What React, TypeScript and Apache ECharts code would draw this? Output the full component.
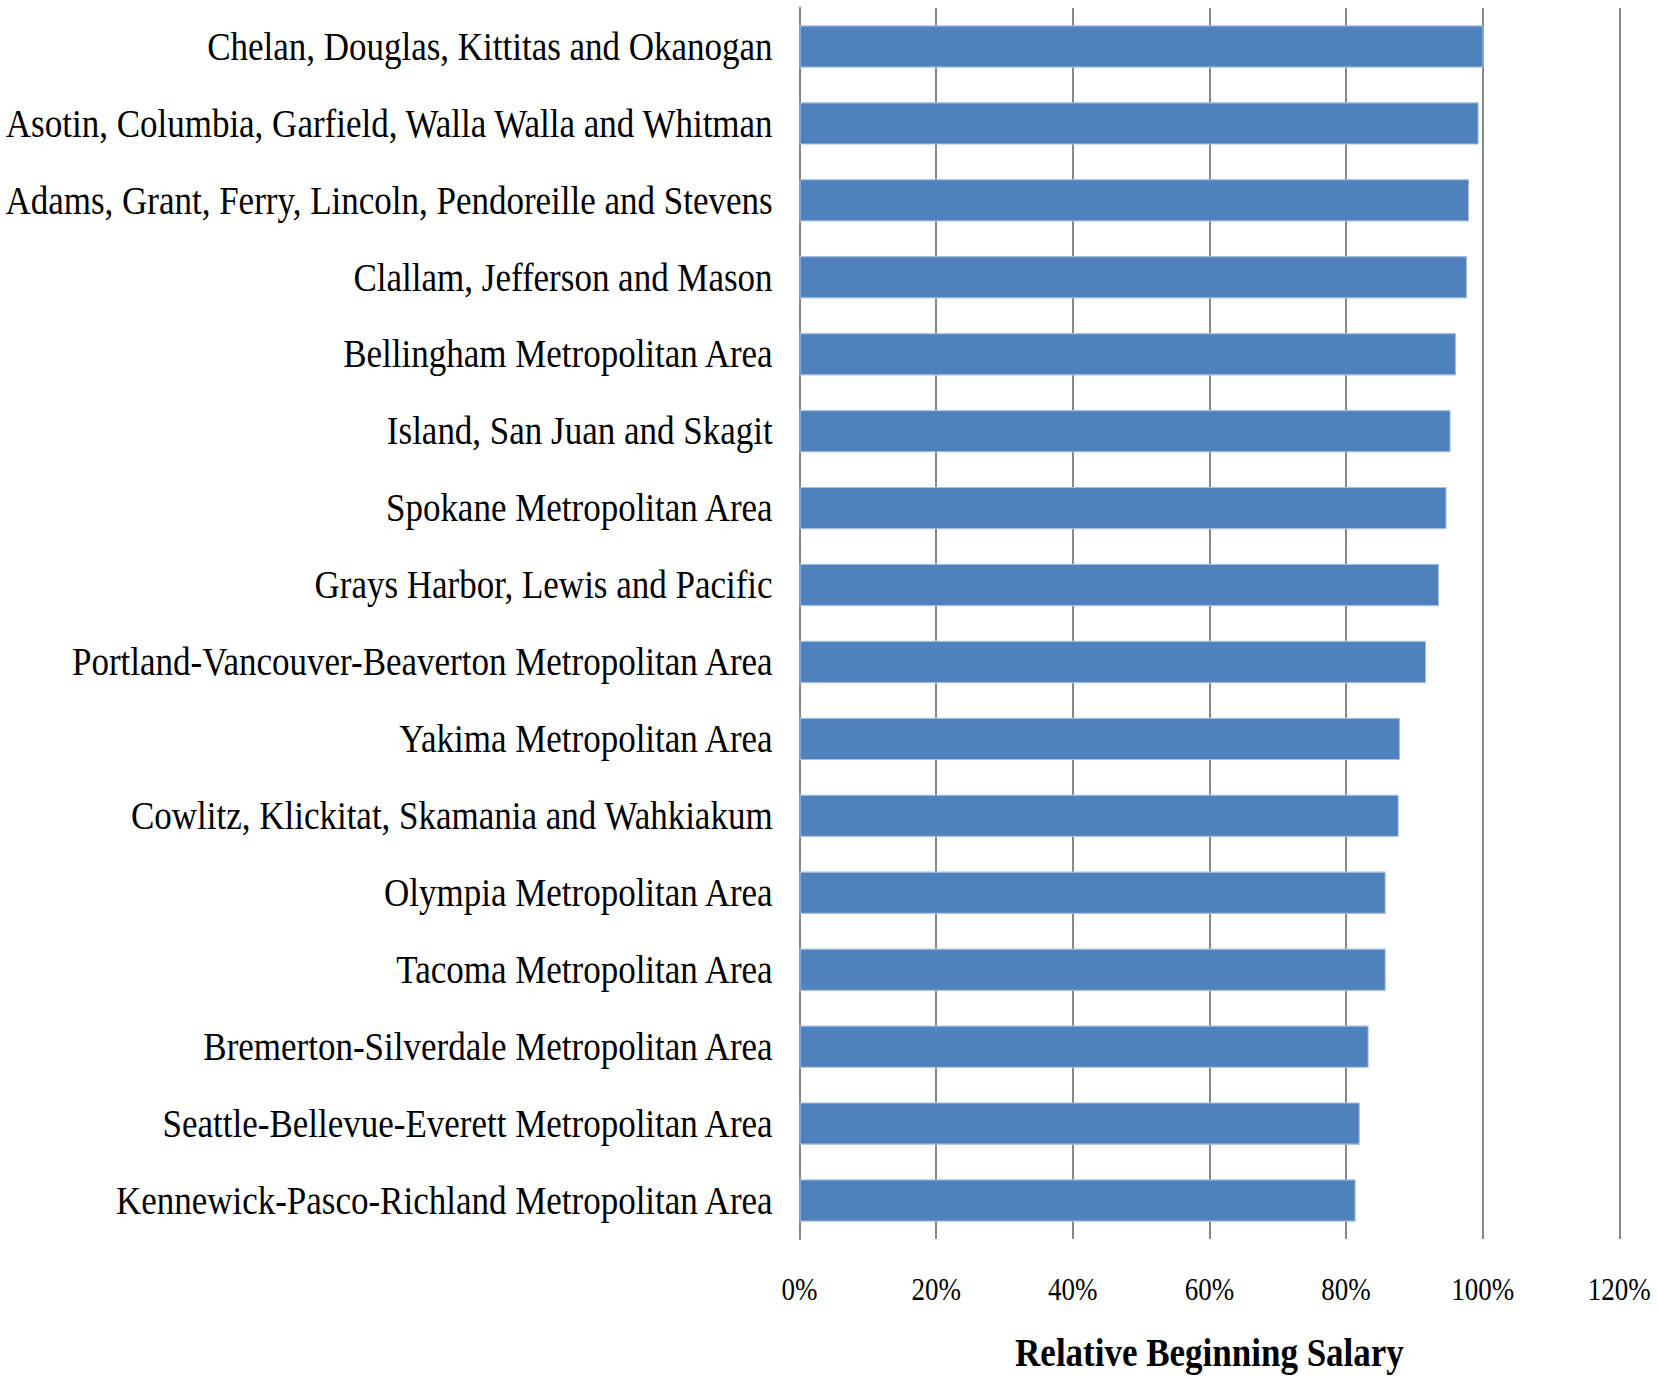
import React, { useEffect, useRef } from "react";
import * as echarts from "echarts";

const categories: string[] = [
  "Chelan, Douglas, Kittitas and Okanogan",
  "Asotin, Columbia, Garfield, Walla Walla and Whitman",
  "Adams, Grant, Ferry, Lincoln, Pendoreille and Stevens",
  "Clallam, Jefferson and Mason",
  "Bellingham Metropolitan Area",
  "Island, San Juan and Skagit",
  "Spokane Metropolitan Area",
  "Grays Harbor, Lewis and Pacific",
  "Portland-Vancouver-Beaverton Metropolitan Area",
  "Yakima Metropolitan Area",
  "Cowlitz, Klickitat, Skamania and Wahkiakum",
  "Olympia Metropolitan Area",
  "Tacoma Metropolitan Area",
  "Bremerton-Silverdale Metropolitan Area",
  "Seattle-Bellevue-Everett Metropolitan Area",
  "Kennewick-Pasco-Richland Metropolitan Area",
];

const relativeSalary: number[] = [
  100.1, 99.4, 98.0, 97.7, 96.1, 95.3, 94.7, 93.6, 91.7, 87.9, 87.7, 85.8, 85.8,
  83.3, 82.0, 81.4,
];

const axisTitle = "Relative Beginning Salary";
const xMin = 0;
const xMax = 120;
const xStep = 20;

const PAGE_W = 1658;
const PAGE_H = 1381;
const STRETCH = 1.13;
const CHART_H = Math.round(PAGE_H / STRETCH);

export default function App() {
  const ref = useRef<HTMLDivElement>(null);

  useEffect(() => {
    if (!ref.current) return;
    const chart = echarts.init(ref.current, undefined, { renderer: "svg" });
    const k = PAGE_H / CHART_H;
    chart.setOption({
      animation: false,
      backgroundColor: "#ffffff",
      textStyle: { fontFamily: "Liberation Serif" },
      grid: {
        left: 799.6,
        right: 38.7,
        top: 8 / k,
        bottom: 142 / k,
        containLabel: false,
      },
      xAxis: {
        type: "value",
        min: xMin,
        max: xMax,
        interval: xStep,
        axisLine: { show: false },
        axisTick: { show: false },
        axisLabel: {
          formatter: "{value}%",
          color: "#000000",
          fontFamily: "Liberation Serif",
          fontSize: 27,
          margin: 31,
        },
        splitLine: {
          show: true,
          lineStyle: { color: "#888888", width: 2 },
        },
        name: axisTitle,
        nameLocation: "middle",
        nameGap: 83,
        nameTextStyle: {
          color: "#000000",
          fontFamily: "Liberation Serif",
          fontWeight: "bold",
          fontSize: 35,
        },
      },
      yAxis: {
        type: "category",
        data: categories,
        inverse: true,
        axisLine: { show: true, lineStyle: { color: "#868686", width: 2 } },
        axisTick: { show: false },
        axisLabel: {
          color: "#000000",
          fontFamily: "Liberation Serif",
          fontSize: 35,
          margin: 27,
          align: "right",
        },
        splitLine: { show: false },
      },
      series: [
        {
          type: "bar",
          data: relativeSalary,
          barCategoryGap: "45%",
          itemStyle: {
            color: "#4f81bd",
            borderColor: "#a6bfdf",
            borderWidth: 1,
          },
        },
      ],
    });
    return () => chart.dispose();
  }, []);

  return (
    <div
      style={{
        position: "absolute",
        left: 0,
        top: 0,
        width: PAGE_W,
        height: PAGE_H,
        overflow: "hidden",
        background: "#ffffff",
      }}
    >
      <div
        ref={ref}
        style={{
          width: PAGE_W,
          height: CHART_H,
          transform: `scaleY(${PAGE_H / CHART_H})`,
          transformOrigin: "0 0",
        }}
      />
    </div>
  );
}
